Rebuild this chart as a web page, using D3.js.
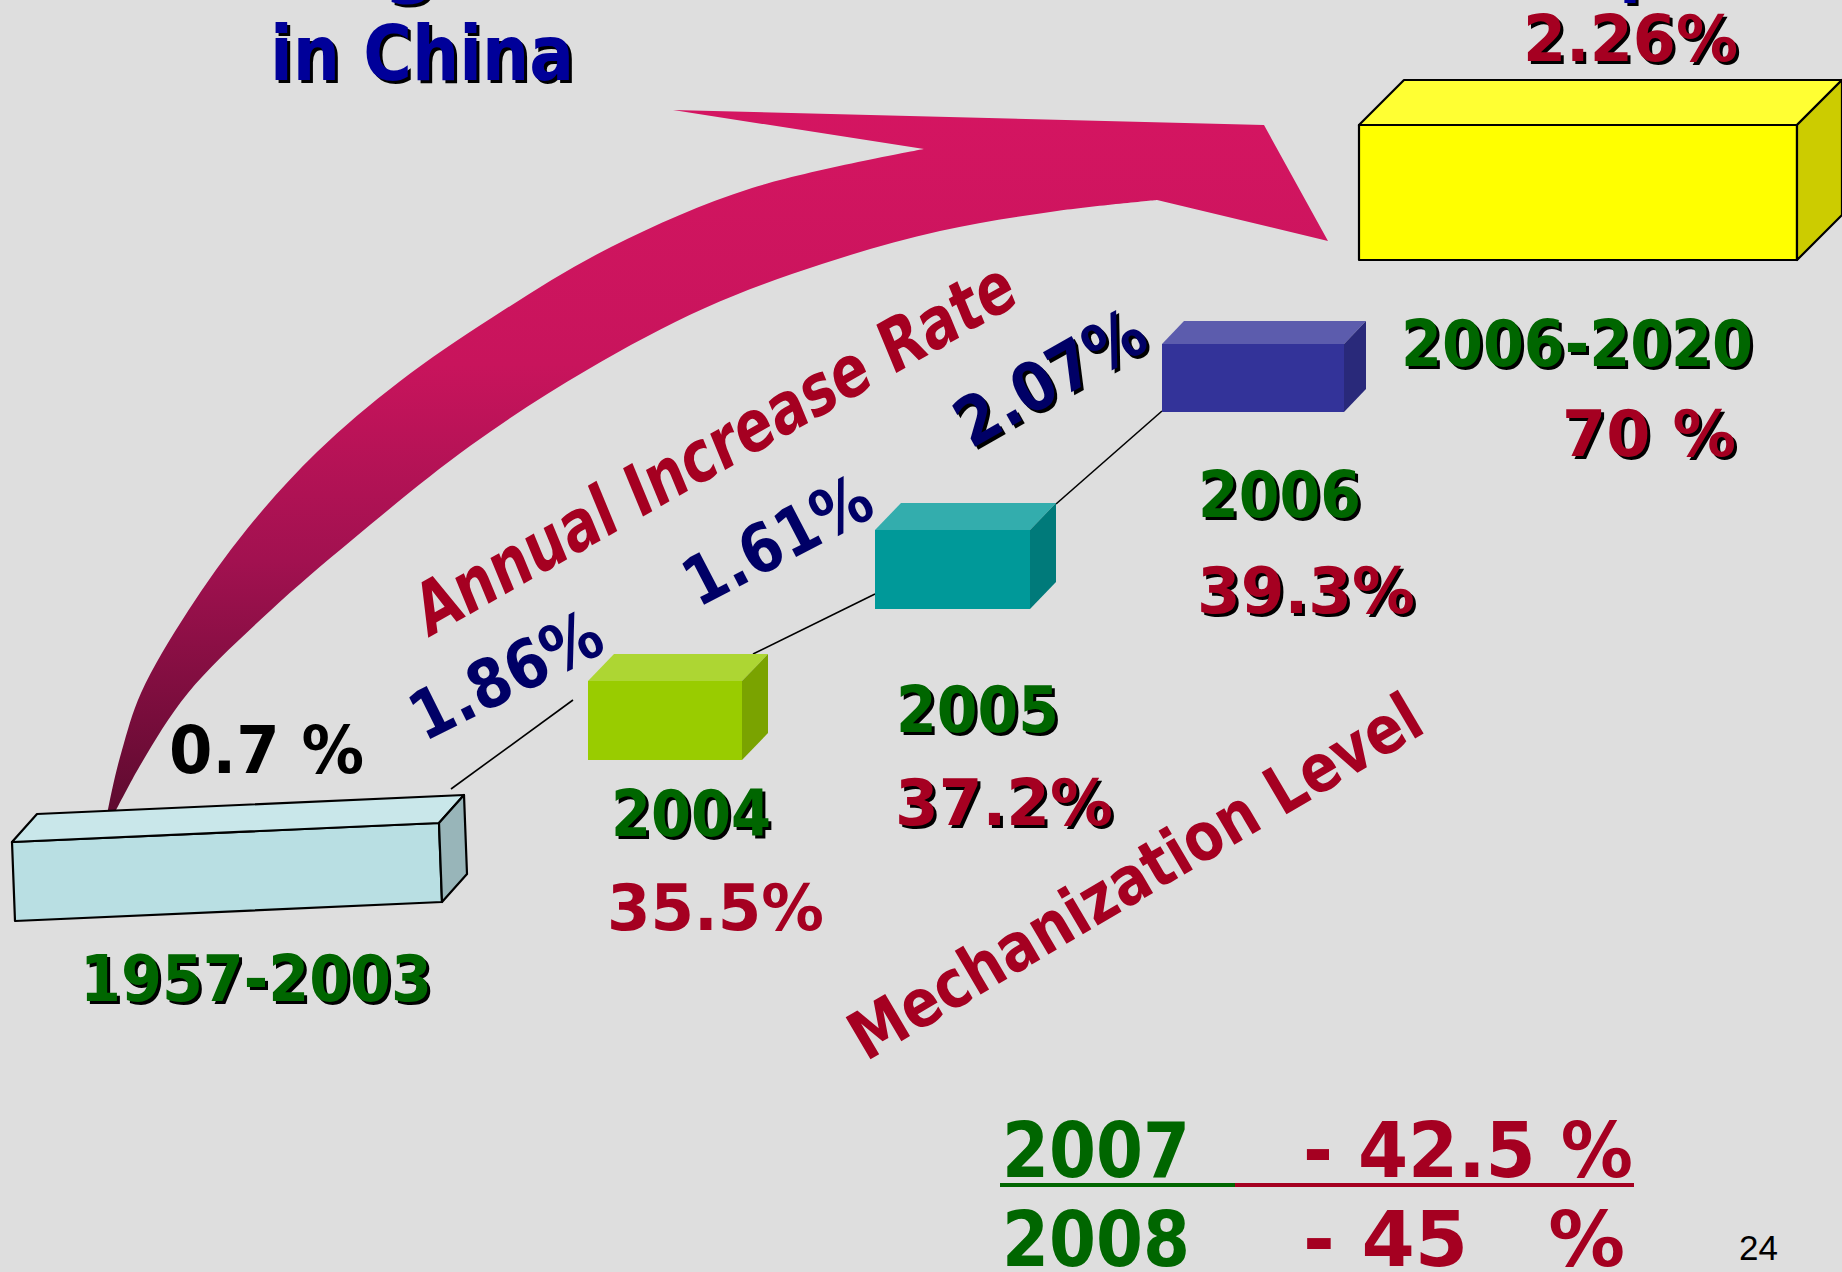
<!DOCTYPE html>
<html><head><meta charset="utf-8">
<script src="https://cdn.jsdelivr.net/npm/d3@7"></script>
<style>
html,body{margin:0;padding:0;background:#DEDEDE;overflow:hidden}
svg{display:block}
text{font-family:"DejaVu Sans",Verdana,sans-serif;font-weight:bold;white-space:pre}
</style>
</head><body>
<svg id="c" width="1842" height="1272"></svg>
<script>
// ---------- data ----------
const periods      = ["1957-2003", "2004", "2005", "2006", "2006-2020"];
const mechLevels   = [null, "35.5%", "37.2%", "39.3%", "70 %"];
const annualRates  = ["0.7 %", "1.86%", "1.61%", "2.07%", "2.26%"];
const laterYears   = ["2007", "2008"];
const laterLevels  = ["- 42.5 %", "- 45   %"];
const titleLines   = ["Agricultural Mechanization", "in China"];
const rateTitle    = "Annual Increase Rate";
const levelTitle   = "Mechanization Level";
const rightTitle   = "Prospect";
const pageNumber   = "24";

// ---------- layout (positions / styles) ----------
const W = 1842, H = 1272;
const GREEN = "#006600", RED = "#A50021", NAVY = "#000066", TBLUE = "#000099";
const svg = d3.select("#c");
svg.append("rect").attr("width", W).attr("height", H).attr("fill", "#DEDEDE");

const boxLayout = [
  {quad: [[12,842],[439,823],[442,902],[15,921]], d: [25,-28], f: "#B9DFE3", t: "#C9E7EA", s: "#98B5B9", stroke: true},
  {quad: [[588,681],[742,681],[742,760],[588,760]], d: [26,-27], f: "#99CC00", t: "#ADD633", s: "#7AA300"},
  {quad: [[875,530],[1030,530],[1030,609],[875,609]], d: [26,-27], f: "#009999", t: "#33ADAD", s: "#007A7A"},
  {quad: [[1162,344],[1344,344],[1344,412],[1162,412]], d: [22,-23], f: "#333399", t: "#5C5CAD", s: "#29297A"},
  {quad: [[1359,125],[1797,125],[1797,260],[1359,260]], d: [45,-45], f: "#FFFF00", t: "#FFFF33", s: "#CCCC00", stroke: true}
];
const periodPos = [
  {x: 80, y: 1001, w: 352}, {x: 611, y: 836, w: 160}, {x: 896, y: 732, w: 163},
  {x: 1198, y: 517, w: 163}, {x: 1401, y: 366, w: 352}
];
const levelPos = [null,
  {x: 607, y: 930, w: 217, shadow: false}, {x: 895, y: 825, w: 218, shadow: true},
  {x: 1197, y: 613, w: 218, shadow: true}, {x: 1562, y: 456, w: 174, shadow: true}
];
const ratePos = [
  {x: 169, y: 773, w: 195, fs: 66, rot: 0, color: "#000000", shadow: false},
  {x: 424, y: 742, w: 206, fs: 67, rot: 26.5, color: NAVY, shadow: false},
  {x: 698, y: 608, w: 203, fs: 67, rot: 27.5, color: NAVY, shadow: false},
  {x: 971, y: 449, w: 208, fs: 67, rot: 29.5, color: NAVY, shadow: true},
  {x: 1523, y: 61, w: 215, fs: 64, rot: 0, color: RED, shadow: true}
];
const connectors = [
  [[451,789],[573,700]],
  [[753,654],[875,594]],
  [[1056,504],[1162,411]]
];

// ---------- helpers ----------
function label(g, str, o) {
  const tr = (dx, dy) => `translate(${o.x + dx},${o.y + dy})` + (o.rot ? ` rotate(${-o.rot})` : "") + (o.skew ? ` skewX(${o.skew})` : "");
  const mk = (fill, dx, dy) => {
    const t = g.append("text").attr("transform", tr(dx, dy)).attr("x", 0).attr("y", 0)
      .attr("font-size", o.fs).attr("fill", fill).text(str);
    if (o.w) t.attr("textLength", o.w).attr("lengthAdjust", "spacingAndGlyphs");
    return t;
  };
  if (o.shadow) mk("#000000", o.sh || 3, o.sh || 3);
  return mk(o.color, 0, 0);
}

// ---------- arrow ----------
const defs = svg.append("defs");
const grad = defs.append("linearGradient").attr("id", "ag")
  .attr("gradientUnits", "userSpaceOnUse").attr("x1", 0).attr("y1", 110).attr("x2", 0).attr("y2", 836);
[[0, "#D41561"], [0.35, "#C8145C"], [0.62, "#A21150"], [1, "#580A2C"]].forEach(s =>
  grad.append("stop").attr("offset", s[0]).attr("stop-color", s[1]));

const outer = [[103,836],[112,790],[122,750],[141,693],[188,611],[247,529],[317,452],[399,382],[493,317],[611,247],[752,188],[924,149]];
const head  = [[673,110],[1264,125],[1328,241],[1157,200]];
const inner = [[1157,200],[1057,211],[940,231],[822,264],[705,308],[587,370],[470,446],[352,540],[270,611],[188,693],[141,764],[103,836]];
const curve = d3.line().curve(d3.curveCatmullRom.alpha(0.5));
const arrowPath = curve(outer) + head.map(p => "L" + p[0] + "," + p[1]).join("") +
  curve(inner).replace(/^M/, "L") + "Z";
svg.append("path").attr("d", arrowPath).attr("fill", "url(#ag)");

// ---------- connectors ----------
svg.selectAll("line.conn").data(connectors).join("line").attr("class", "conn")
  .attr("x1", d => d[0][0]).attr("y1", d => d[0][1]).attr("x2", d => d[1][0]).attr("y2", d => d[1][1])
  .attr("stroke", "#000").attr("stroke-width", 1.6);

// ---------- boxes ----------
const add = (p, d) => [p[0] + d[0], p[1] + d[1]];
const poly = pts => "M" + pts.map(p => p.join(",")).join("L") + "Z";
const bg = svg.append("g");
periods.forEach((p, i) => {
  const b = boxLayout[i], q = b.quad;
  const g = bg.append("g");
  const st = b.stroke ? {stroke: "#000", w: 2.2} : {stroke: "none", w: 0};
  [[q, b.f], [[q[0], q[1], add(q[1], b.d), add(q[0], b.d)], b.t], [[q[1], add(q[1], b.d), add(q[2], b.d), q[2]], b.s]]
    .forEach(f => g.append("path").attr("d", poly(f[0])).attr("fill", f[1])
      .attr("stroke", st.stroke).attr("stroke-width", st.w).attr("stroke-linejoin", "round"));
});

// ---------- hidden title lines (only descenders show, as in the cropped slide) ----------
const tg = svg.append("g");
function placeByChar(str, idx, targetX, y, fs) {
  const sh = tg.append("text").attr("x", 0).attr("y", y + 3).attr("font-size", fs).attr("fill", "#000").text(str);
  const t = tg.append("text").attr("x", 0).attr("y", y).attr("font-size", fs).attr("fill", TBLUE).text(str);
  const ex = t.node().getExtentOfChar(idx);
  const dx = targetX - ex.x;
  t.attr("x", dx); sh.attr("x", dx + 3);
}
placeByChar(titleLines[0], 1, 383, -12, 77);
placeByChar(rightTitle, 4, 1619, -10, 64);

// title line 2
label(svg, titleLines[1], {x: 270, y: 80, w: 304, fs: 77, color: TBLUE, shadow: true});

// ---------- labels ----------
const lg = svg.append("g");
periods.forEach((p, i) => label(lg, p, Object.assign({fs: 64, color: GREEN, shadow: true}, periodPos[i])));
mechLevels.forEach((m, i) => { if (m) label(lg, m, Object.assign({fs: 64, color: RED}, levelPos[i])); });
annualRates.forEach((r, i) => label(lg, r, ratePos[i]));

// rotated titles
label(lg, rateTitle, {x: 428, y: 638, w: 680, fs: 71, rot: 29.5, skew: -7, color: RED});
label(lg, levelTitle, {x: 866, y: 1062, w: 652, fs: 67, rot: 30.5, color: RED});

// ---------- later years ----------
const yearsY = [1177, 1266];
laterYears.forEach((y, i) => {
  label(lg, y, {x: 1002, y: yearsY[i], w: 188, fs: 76, color: GREEN});
  label(lg, laterLevels[i], {x: 1303, y: yearsY[i], w: i === 0 ? 330 : 322, fs: 76, color: RED});
});
lg.append("rect").attr("x", 1000).attr("y", 1183).attr("width", 235).attr("height", 4).attr("fill", GREEN);
lg.append("rect").attr("x", 1235).attr("y", 1183).attr("width", 399).attr("height", 4).attr("fill", RED);

// page number
lg.append("text").attr("x", 1739).attr("y", 1260).attr("font-size", 35)
  .style("font-family", "'Liberation Sans', Arial, sans-serif").style("font-weight", "normal")
  .attr("fill", "#000").text(pageNumber);
</script>
</body></html>
